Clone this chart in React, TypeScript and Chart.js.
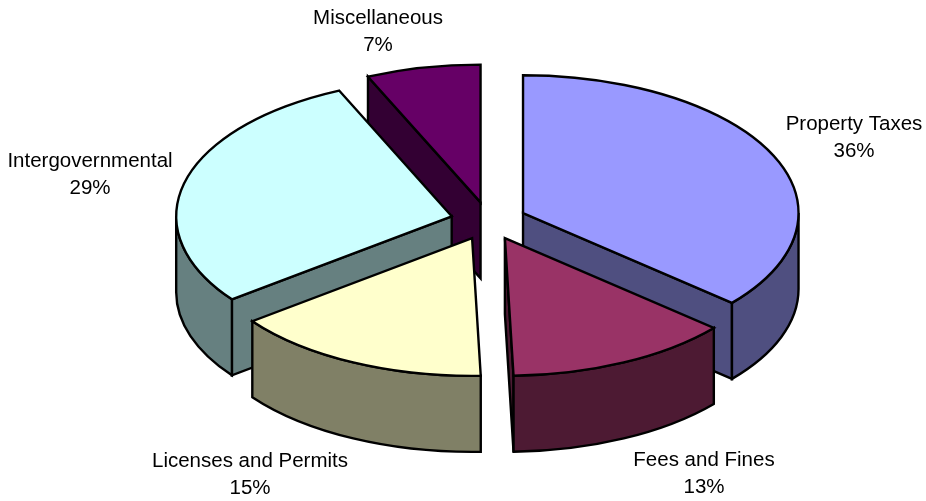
import React, { useEffect, useRef } from "react";
import { Chart, registerables } from "chart.js";

Chart.register(...registerables);

const categories = ["Property Taxes", "Fees and Fines", "Licenses and Permits", "Intergovernmental", "Miscellaneous"];
const shares = [36.3, 13.2, 15.2, 28.6, 6.7];
const topColors = ["#9999FF", "#993366", "#FFFFCC", "#CCFFFF", "#660066"];
const wallColors = ["#4F4F80", "#4D1A33", "#808066", "#668080", "#330033"];
const labelCenters = [
  [854, 124],
  [704, 460],
  [250, 461],
  [90, 161],
  [378, 18],
];

const SQUASH = 0.5;
const DEPTH = 76;
const EXPLODE = 38;
const LINE_HEIGHT = 27;

const pie3d = {
  id: "pie3d",
  beforeDatasetsDraw(chart: any) {
    const ctx: CanvasRenderingContext2D = chart.ctx;
    const arcs: any[] = chart.getDatasetMeta(0).data;
    const items = arcs.map((arc, index) => {
      const { x, y, startAngle, endAngle, outerRadius } = arc.getProps(
        ["x", "y", "startAngle", "endAngle", "outerRadius"],
        true
      );
      const mid = (startAngle + endAngle) / 2;
      return {
        index,
        start: startAngle,
        end: endAngle,
        r: outerRadius,
        mid,
        cx: x + Math.cos(mid) * EXPLODE,
        cy: y + Math.sin(mid) * EXPLODE * SQUASH,
      };
    });
    items.sort((a, b) => Math.sin(a.mid) - Math.sin(b.mid));

    ctx.save();
    ctx.lineWidth = 2.4;
    ctx.lineJoin = "miter";
    ctx.strokeStyle = "#000000";

    const paint = (fill: string) => {
      ctx.fillStyle = fill;
      ctx.fill();
      ctx.stroke();
    };

    for (const s of items) {
      const rx = s.r;
      const ry = s.r * SQUASH;
      const px = (a: number) => s.cx + Math.cos(a) * rx;
      const py = (a: number) => s.cy + Math.sin(a) * ry;
      const wall = wallColors[s.index];

      // only the radial walls that face the viewer
      const radial: number[] = [];
      if (Math.cos(s.start) < 0) radial.push(s.start);
      if (Math.cos(s.end) > 0) radial.push(s.end);
      for (const a of radial) {
        ctx.beginPath();
        ctx.moveTo(s.cx, s.cy);
        ctx.lineTo(px(a), py(a));
        ctx.lineTo(px(a), py(a) + DEPTH);
        ctx.lineTo(s.cx, s.cy + DEPTH);
        ctx.closePath();
        paint(wall);
      }

      // outer wall: only the parts of the rim that face the viewer
      const TAU = Math.PI * 2;
      for (const k of [-1, 0, 1]) {
        const a0 = Math.max(s.start, k * TAU);
        const a1 = Math.min(s.end, k * TAU + Math.PI);
        if (a1 > a0) {
          ctx.beginPath();
          ctx.ellipse(s.cx, s.cy, rx, ry, 0, a0, a1);
          ctx.lineTo(px(a1), py(a1) + DEPTH);
          ctx.ellipse(s.cx, s.cy + DEPTH, rx, ry, 0, a1, a0, true);
          ctx.closePath();
          paint(wall);
        }
      }

      ctx.beginPath();
      ctx.moveTo(s.cx, s.cy);
      ctx.ellipse(s.cx, s.cy, rx, ry, 0, s.start, s.end);
      ctx.closePath();
      paint(topColors[s.index]);
    }

    ctx.fillStyle = "#000000";
    ctx.font = '20.5px "Liberation Sans", Arial, sans-serif';
    ctx.textAlign = "center";
    ctx.textBaseline = "middle";
    const total = shares.reduce((a, b) => a + b, 0);
    categories.forEach((name, i) => {
      const [lx, ly] = labelCenters[i];
      ctx.fillText(name, lx, ly);
      ctx.fillText(`${Math.round((shares[i] / total) * 100)}%`, lx, ly + LINE_HEIGHT);
    });
    ctx.restore();
    return false;
  },
};

export default function App() {
  const ref = useRef<HTMLCanvasElement | null>(null);
  useEffect(() => {
    const chart = new Chart(ref.current as HTMLCanvasElement, {
      type: "pie",
      data: {
        labels: categories,
        datasets: [{ data: shares, backgroundColor: topColors, borderColor: "#000000", borderWidth: 2 }],
      },
      options: {
        responsive: false,
        animation: false,
        radius: 275.5,
        layout: { padding: { left: 51, right: 0, top: 0, bottom: 59 } },
        plugins: { legend: { display: false }, tooltip: { enabled: false } },
      } as any,
      plugins: [pie3d as any],
    });
    return () => chart.destroy();
  }, []);
  return (
    <div style={{ position: "fixed", left: 0, top: 0, width: 926, height: 501, background: "#ffffff" }}>
      <canvas ref={ref} width={926} height={501} style={{ display: "block" }} />
    </div>
  );
}
